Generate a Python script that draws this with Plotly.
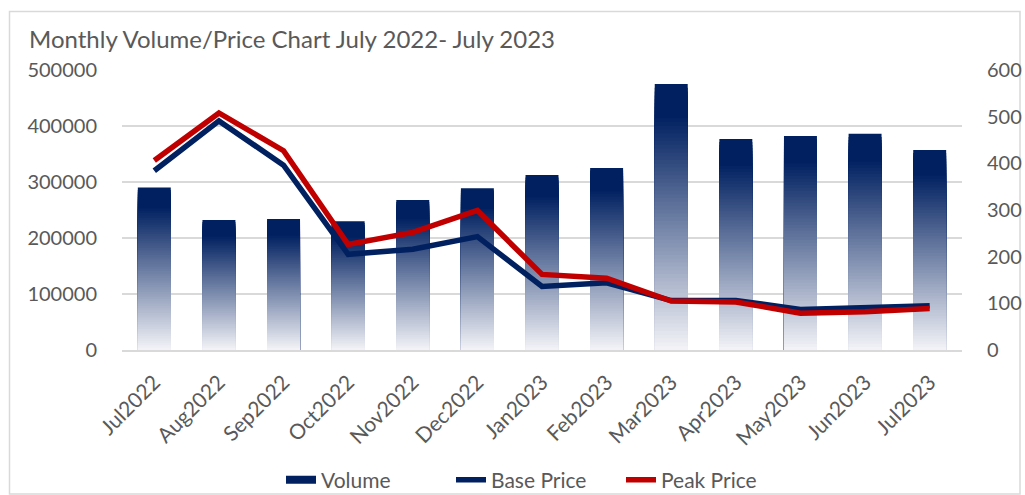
import plotly.graph_objects as go

months = ["Jul2022", "Aug2022", "Sep2022", "Oct2022", "Nov2022", "Dec2022", "Jan2023",
          "Feb2023", "Mar2023", "Apr2023", "May2023", "Jun2023", "Jul2023"]
volume = [290000, 232000, 234000, 230000, 268000, 289000, 312500,
          325000, 475000, 377000, 382000, 386000, 357000]
base_price = [384, 491, 396, 205, 216, 243, 136, 144, 106, 106, 87, 91, 95]
peak_price = [406, 508, 427, 226, 252, 299, 162, 154, 105, 103, 79, 82, 89]

left_ticks = [0, 100000, 200000, 300000, 400000, 500000]
right_ticks = [0, 100, 200, 300, 400, 500, 600]

NAVY = (0, 32, 96)
LIGHT = (244, 244, 248)
FONT = "Lato"
GREY = "#595959"


def grad_color(f):
    # f: fraction of bar height (1 = top)
    if f >= 0.88:
        c = NAVY
    else:
        t = f / 0.88
        c = tuple(round(LIGHT[i] + (NAVY[i] - LIGHT[i]) * t) for i in range(3))
    return "rgb(%d,%d,%d)" % c


fig = go.Figure()

N = 70
for k in range(N):
    f = 1 - k / N
    fig.add_trace(go.Bar(
        x=months, y=[v * f for v in volume],
        marker=dict(color=grad_color(f - 0.5 / N), line=dict(width=0)),
        showlegend=False, hoverinfo="skip", yaxis="y",
    ))

# legend entry for volume
fig.add_trace(go.Scatter(
    x=[months[0]], y=[None], mode="lines", name="Volume",
    line=dict(color="rgb(0,32,96)", width=8), yaxis="y",
))

fig.add_trace(go.Scatter(
    x=months, y=base_price, mode="lines", name="Base Price",
    line=dict(color="#002060", width=5.5), yaxis="y2",
))
fig.add_trace(go.Scatter(
    x=months, y=peak_price, mode="lines", name="Peak Price",
    line=dict(color="#C00000", width=5.5), yaxis="y2",
))

L, R, T, B = 122, 63, 70, 145
W, H = 1025, 495
pw, ph = W - L - R, H - T - B


def px_x(p):
    return (p - L) / pw


def px_y(p):
    return (H - B - p) / ph


fig.update_layout(
    width=W, height=H,
    margin=dict(l=L, r=R, t=T, b=B, pad=0, autoexpand=False),
    paper_bgcolor="white", plot_bgcolor="white",
    barmode="overlay", bargap=0.49,
    font=dict(family=FONT, color=GREY, size=20),
    title=dict(text="Monthly Volume/Price Chart July 2022- July 2023",
               x=29 / W, xref="container", xanchor="left",
               y=1 - 40 / H, yref="container", yanchor="middle",
               font=dict(family=FONT, size=24, color=GREY)),
    xaxis=dict(type="category", tickangle=-45, showgrid=False, automargin=False,
               showline=True, linecolor="#d9d9d9", linewidth=1.5,
               ticks="outside", ticklen=10, tickcolor="rgba(0,0,0,0)",
               tickfont=dict(size=21, color=GREY)),
    yaxis=dict(range=[0, 500000], tickvals=left_ticks, automargin=False,
               ticktext=[str(v) for v in left_ticks],
               showgrid=True, gridcolor="#d9d9d9", gridwidth=1.5,
               zeroline=False, ticks="outside", ticklen=20,
               tickcolor="rgba(0,0,0,0)", tickfont=dict(size=20, color=GREY)),
    yaxis2=dict(range=[0, 600], tickvals=right_ticks, overlaying="y", side="right",
                automargin=False,
                showgrid=False, zeroline=False, ticks="outside", ticklen=20,
                tickcolor="rgba(0,0,0,0)", tickfont=dict(size=20, color=GREY)),
    legend=dict(orientation="h", xref="container", yref="container",
                x=536 / W, xanchor="center",
                y=1 - 480 / H, yanchor="middle", font=dict(size=21, color=GREY),
                entrywidth=125, entrywidthmode="pixels",
                bgcolor="rgba(0,0,0,0)"),
    shapes=[dict(type="rect", xref="paper", yref="paper",
                 x0=px_x(9.5), x1=px_x(1020), y0=px_y(494), y1=px_y(11.5),
                 line=dict(color="#d9d9d9", width=1.5), fillcolor="rgba(0,0,0,0)",
                 layer="below")],
    showlegend=True,
)

fig.write_html("out.html", config={"displayModeBar": False},
               post_script="document.body.style.margin='0';")
